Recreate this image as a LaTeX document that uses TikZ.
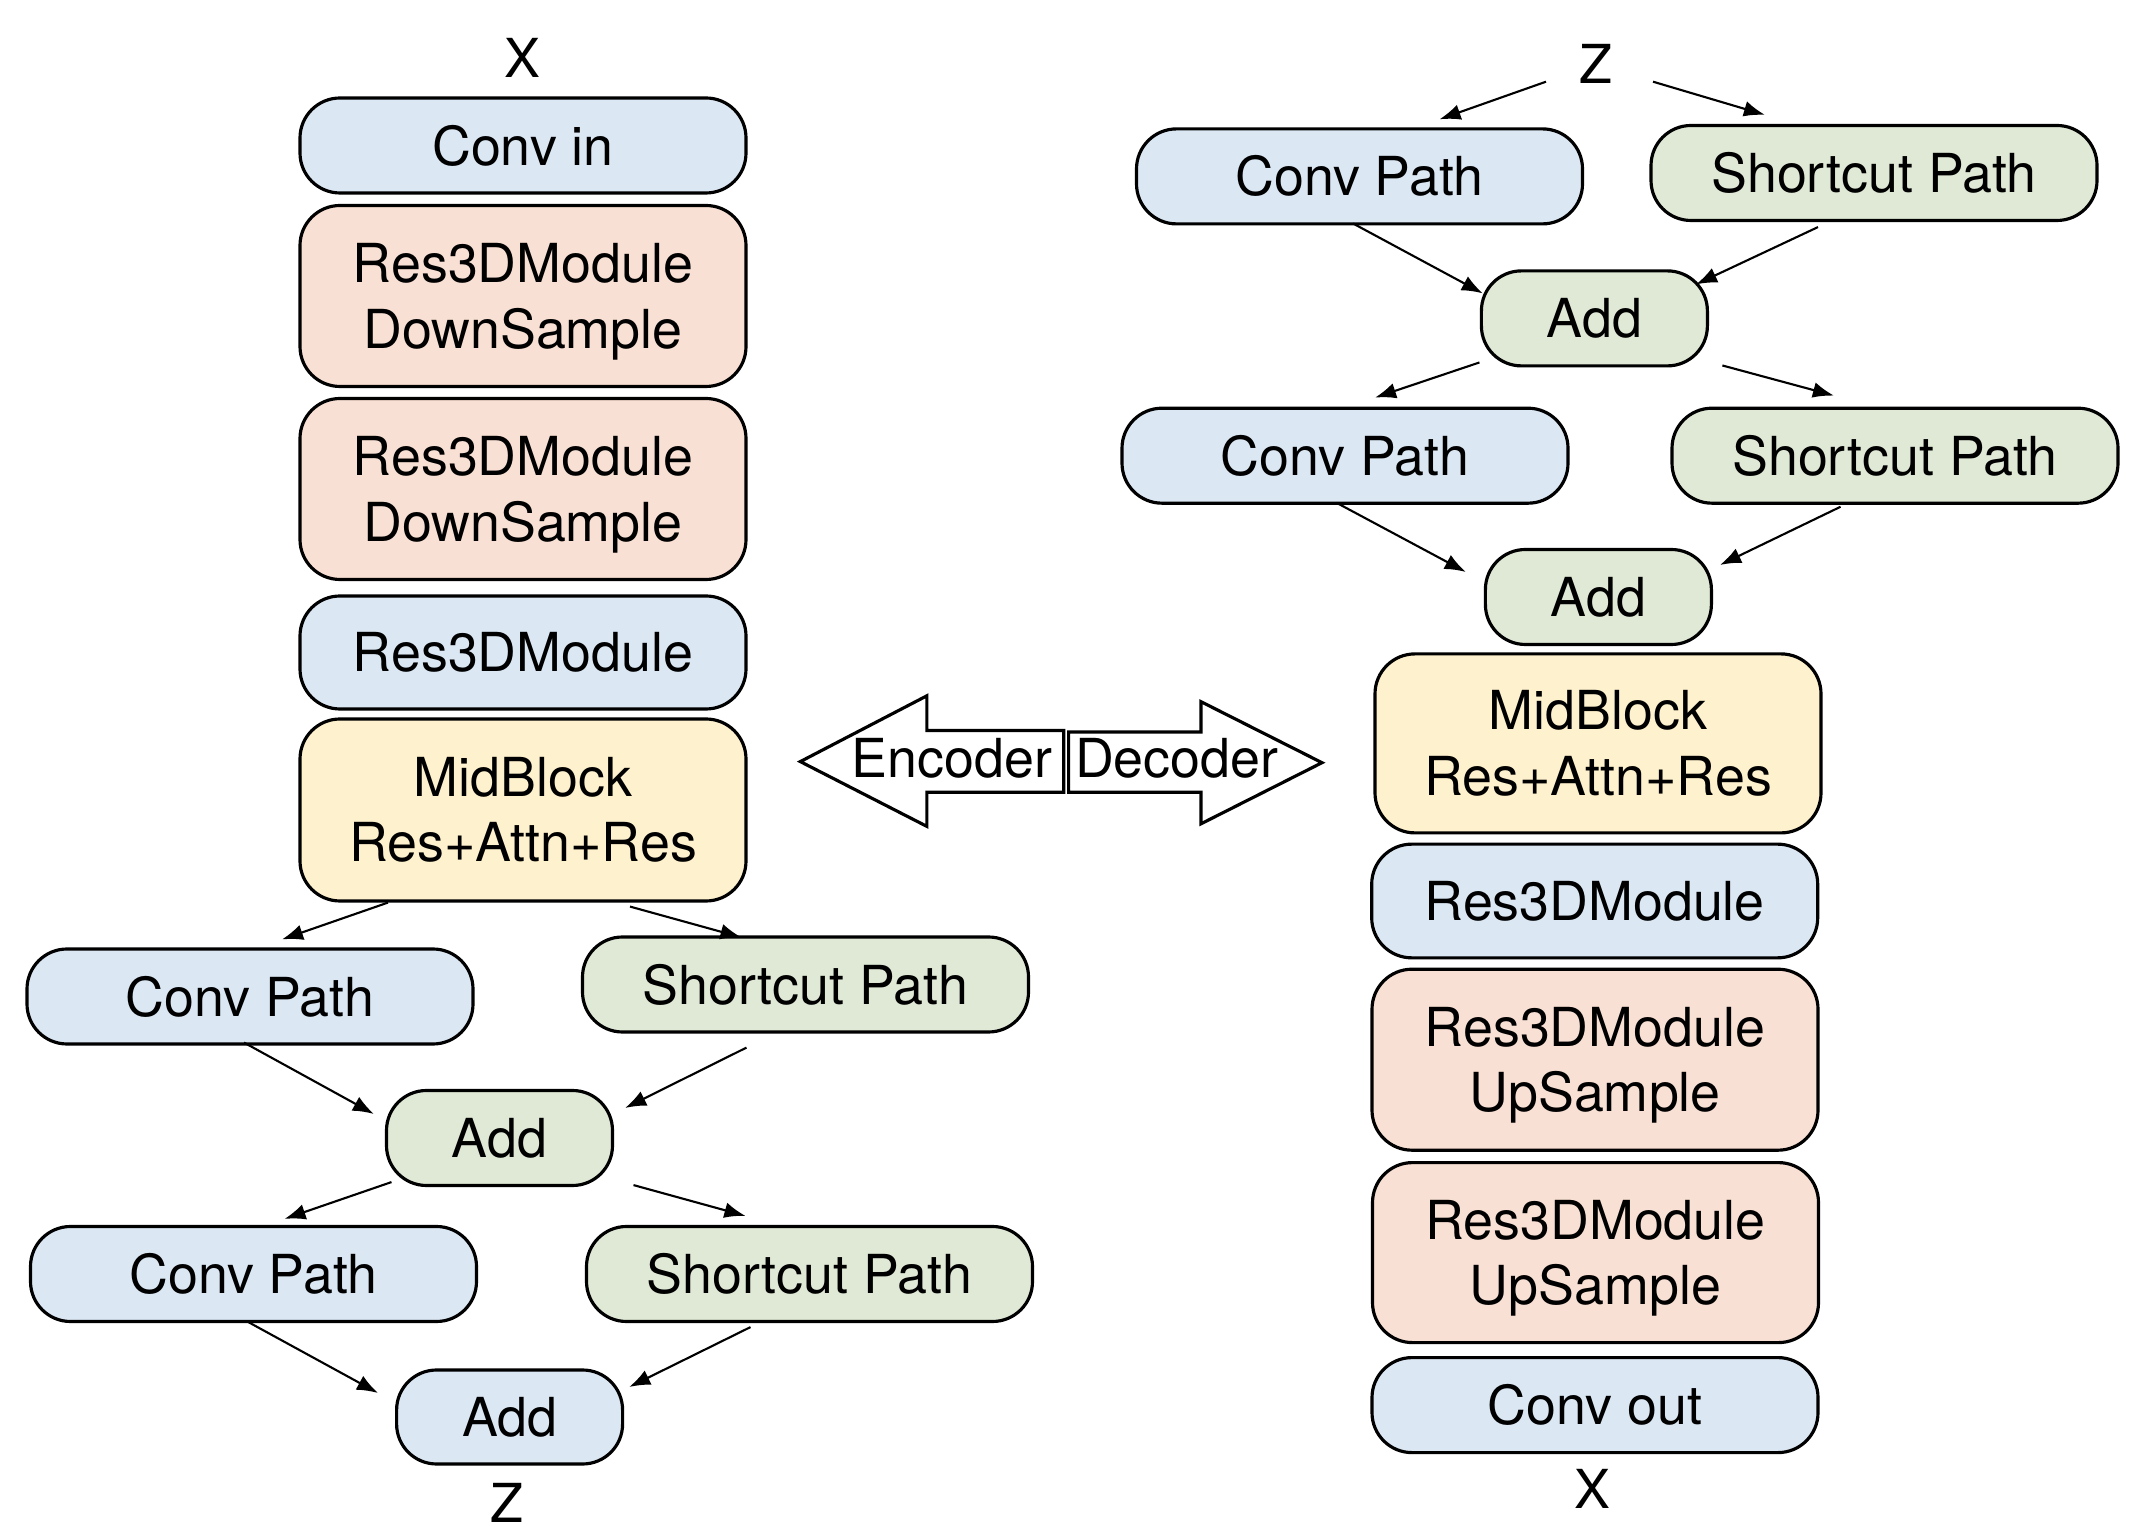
\documentclass[tikz,border=0pt]{standalone}
\usepackage{fontspec}
\setmainfont{TeX Gyre Heros}
\usetikzlibrary{arrows.meta}

\definecolor{boxblue}{RGB}{219,232,244}
\definecolor{boxgreen}{RGB}{224,233,214}
\definecolor{boxpeach}{RGB}{249,224,212}
\definecolor{boxyellow}{RGB}{254,241,205}

\begin{document}
\begin{tikzpicture}[
    font=\fontsize{15.3}{18.6}\selectfont,
    blk/.style={draw, line width=0.9pt, rounded corners=0.4cm, align=center,
                inner sep=0pt, minimum width=4.46cm, minimum height=0.95cm},
    addblk/.style={blk, minimum width=2.26cm},
    tall/.style={minimum height=1.81cm, text depth=0pt},
    lbl/.style={inner sep=0pt},
    arr/.style={line width=0.6pt, -{Latex[length=6pt,width=4.5pt]}},
    bigarr/.style={draw, line width=0.9pt}
  ]
      \useasboundingbox (0,0) rectangle (21.3,-15.34);

% Encoder column
      \node[lbl] (xL) at (5.22,-0.58) {X};
      \node[blk, fill=boxblue] (convin) at (5.23,-1.455) {Conv in};
      \node[blk, tall, fill=boxpeach] (downA) at (5.23,-2.96) {Res3DModule\\DownSample};
      \node[blk, tall, fill=boxpeach] (downB) at (5.23,-4.89) {Res3DModule\\DownSample};
      \node[blk, minimum height=1.13cm, fill=boxblue] (resL) at (5.23,-6.525) {Res3DModule};
      \node[blk, minimum height=1.82cm, fill=boxyellow] (midL) at (5.23,-8.10) {MidBlock\\Res+Attn+Res};

      \node[blk, fill=boxblue] (cpLA) at (2.50,-9.965) {Conv Path};
      \node[blk, fill=boxgreen] (spLA) at (8.055,-9.845) {Shortcut Path};
      \node[addblk, fill=boxgreen] (addLA) at (4.995,-11.38) {Add};
      \node[blk, fill=boxblue] (cpLB) at (2.535,-12.74) {Conv Path};
      \node[blk, fill=boxgreen] (spLB) at (8.095,-12.74) {Shortcut Path};
      \node[addblk, minimum height=0.94cm, fill=boxblue] (addLB) at (5.096,-14.17) {Add};
      \node[lbl] (zL) at (5.074,-15.03) {Z};

% Encoder connectors
      \draw[arr] ([xshift=-1.35cm]midL.south) -- ([xshift=0.32cm,yshift=0.08cm]cpLA.north);
      \draw[arr] ([xshift=1.07cm,yshift=-0.04cm]midL.south) -- ([xshift=-0.64cm,yshift=-0.02cm]spLA.north);
      \draw[arr] ([xshift=-0.06cm,yshift=0.03cm]cpLA.south) -- ([xshift=-0.11cm,yshift=0.24cm]addLA.west);
      \draw[arr] ([xshift=-0.59cm,yshift=-0.14cm]spLA.south) -- ([xshift=0.11cm,yshift=0.30cm]addLA.east);
      \draw[arr] ([xshift=-1.08cm,yshift=0.05cm]addLA.south) -- ([xshift=0.31cm,yshift=0.06cm]cpLB.north);
      \draw[arr] ([xshift=1.34cm,yshift=0.02cm]addLA.south) -- ([xshift=-0.64cm,yshift=0.09cm]spLB.north);
      \draw[arr] ([xshift=-0.07cm,yshift=0.02cm]cpLB.south) -- ([xshift=-0.17cm,yshift=0.24cm]addLB.west);
      \draw[arr] ([xshift=-0.59cm,yshift=-0.04cm]spLB.south) -- ([xshift=0.05cm,yshift=0.30cm]addLB.east);

% Decoder column
      \node[lbl] (zR) at (15.96,-0.637) {Z};
      \node[blk, fill=boxblue] (cpRA) at (13.595,-1.764) {Conv Path};
      \node[blk, fill=boxgreen] (spRA) at (18.74,-1.73) {Shortcut Path};
      \node[addblk, fill=boxgreen] (addRA) at (15.944,-3.184) {Add};
      \node[blk, fill=boxblue] (cpRB) at (13.45,-4.557) {Conv Path};
      \node[blk, fill=boxgreen] (spRB) at (18.95,-4.557) {Shortcut Path};
      \node[addblk, fill=boxgreen] (addRB) at (15.984,-5.97) {Add};
      \node[blk, minimum height=1.79cm, fill=boxyellow] (midR) at (15.98,-7.434) {MidBlock\\Res+Attn+Res};
      \node[blk, minimum height=1.137cm, fill=boxblue] (resR) at (15.947,-9.01) {Res3DModule};
      \node[blk, tall, fill=boxpeach] (upA) at (15.95,-10.597) {Res3DModule\\UpSample};
      \node[blk, tall, minimum height=1.80cm, fill=boxpeach] (upB) at (15.955,-12.526) {Res3DModule\\UpSample};
      \node[blk, fill=boxblue] (convout) at (15.95,-14.051) {Conv out};
      \node[lbl] (xR) at (15.928,-14.89) {X};

% Decoder connectors
      \draw[arr] ([xshift=-0.50cm,yshift=-0.18cm]zR.center) -- ([xshift=0.80cm,yshift=0.08cm]cpRA.north);
      \draw[arr] ([xshift=0.57cm,yshift=-0.18cm]zR.center) -- ([xshift=-1.09cm,yshift=0.09cm]spRA.north);
      \draw[arr] ([xshift=-0.065cm,yshift=0.02cm]cpRA.south) -- ([xshift=0.03cm,yshift=0.25cm]addRA.west);
      \draw[arr] ([xshift=-0.56cm,yshift=-0.05cm]spRA.south) -- ([xshift=-0.13cm,yshift=0.34cm]addRA.east);
      \draw[arr] ([xshift=-1.15cm,yshift=0.05cm]addRA.south) -- ([xshift=0.30cm,yshift=0.09cm]cpRB.north);
      \draw[arr] ([xshift=1.28cm,yshift=0.02cm]addRA.south) -- ([xshift=-0.61cm,yshift=0.11cm]spRB.north);
      \draw[arr] ([xshift=-0.085cm,yshift=0.02cm]cpRB.south) -- ([xshift=-0.18cm,yshift=0.25cm]addRB.west);
      \draw[arr] ([xshift=-0.545cm,yshift=-0.02cm]spRB.south) -- ([xshift=0.07cm,yshift=0.32cm]addRB.east);

% Encoder / Decoder arrows
      \draw[bigarr] (8.003,-7.616) -- (9.269,-6.958) -- (9.269,-7.305) -- (10.638,-7.305)
            -- (10.638,-7.923) -- (9.269,-7.923) -- (9.269,-8.264) -- cycle;
      \draw[bigarr] (10.686,-7.32) -- (12.01,-7.32) -- (12.01,-7.017) -- (13.22,-7.627)
            -- (12.01,-8.238) -- (12.01,-7.923) -- (10.686,-7.923) -- cycle;
      \node[anchor=base] (enc) at (9.52,-7.78) {Encoder};
      \node[anchor=base] (dec) at (11.766,-7.78) {Decoder};

\end{tikzpicture}
\end{document}
